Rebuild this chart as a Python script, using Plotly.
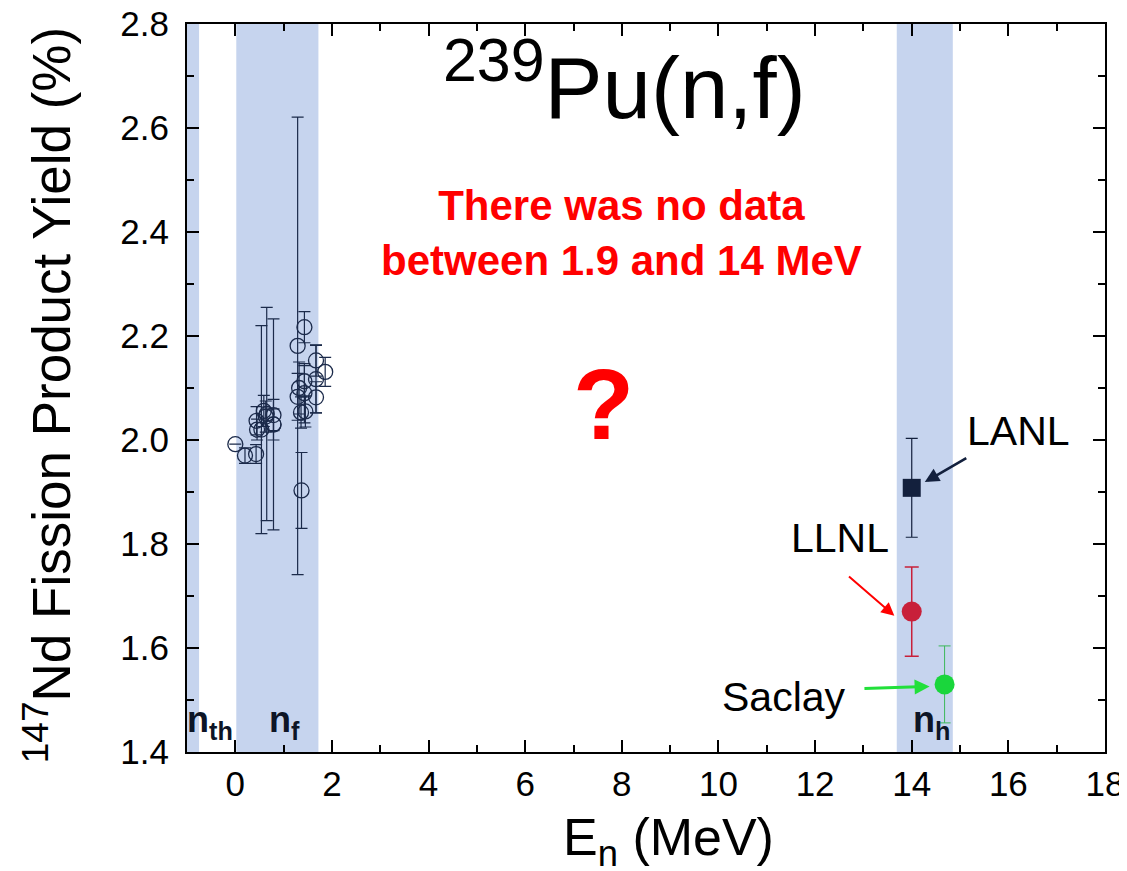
import plotly.graph_objects as go

# ---- data ----
open_x = [0.00, 0.20, 0.43, 0.44, 0.45, 0.54, 0.59, 0.63, 0.65, 0.79, 0.79, 0.79,
          1.29, 1.29, 1.32, 1.36, 1.37, 1.43, 1.43, 1.43, 1.45, 1.67, 1.67, 1.67, 1.86]
open_y = [1.992, 1.970, 1.973, 2.037, 2.020, 2.020, 2.056, 2.045, 2.050, 2.030, 2.048, 2.030,
          2.181, 2.083, 2.100, 2.053, 1.903, 2.217, 2.090, 2.113, 2.055, 2.153, 2.117, 2.082, 2.131]
open_err = [0.0, 0.015, 0.018, 0.027, 0.02, 0.20, 0.03, 0.03, 0.205, 0.203, 0.03, 0.03,
            0.44, 0.045, 0.05, 0.03, 0.073, 0.03, 0.057, 0.03, 0.03, 0.03, 0.065, 0.03, 0.028]

lanl_x, lanl_y, lanl_err = [14.0], [1.908], [0.095]
llnl_x, llnl_y, llnl_err = [14.0], [1.670], [0.086]
saclay_x, saclay_y, saclay_err = [14.68], [1.530], [0.074]

bands = [(-1.0, -0.75), (0.02, 1.72), (13.69, 14.85)]
band_labels = ["n<sub>th</sub>", "n<sub>f</sub>", "n<sub>h</sub>"]
band_label_x = [-0.52, 1.01, 14.4]

x_ticks = [0, 2, 4, 6, 8, 10, 12, 14, 16, 18]
y_ticks = [1.4, 1.6, 1.8, 2.0, 2.2, 2.4, 2.6, 2.8]

NAVY = "#1b2a4a"
RED = "#c8203a"
GREEN = "#1ad63c"
BAND = "#c6d4ee"
FONT = "Liberation Sans, Arial, sans-serif"

fig = go.Figure()

fig.add_trace(go.Scatter(
    x=open_x, y=open_y, mode="markers",
    marker=dict(symbol="circle-open", size=15, color=NAVY, line=dict(width=1.3, color=NAVY)),
    error_y=dict(type="data", array=open_err, color=NAVY, thickness=1.2, width=6),
    showlegend=False))

fig.add_trace(go.Scatter(
    x=lanl_x, y=lanl_y, mode="markers",
    marker=dict(symbol="square", size=18, color="#13203d"),
    error_y=dict(type="data", array=lanl_err, color="#13203d", thickness=1.2, width=6),
    showlegend=False))

fig.add_trace(go.Scatter(
    x=llnl_x, y=llnl_y, mode="markers",
    marker=dict(symbol="circle", size=20, color=RED),
    error_y=dict(type="data", array=llnl_err, color=RED, thickness=1.5, width=7),
    showlegend=False))

fig.add_trace(go.Scatter(
    x=saclay_x, y=saclay_y, mode="markers",
    marker=dict(symbol="circle", size=20, color=GREEN),
    error_y=dict(type="data", array=saclay_err, color="#3cb85a", thickness=1, width=6),
    showlegend=False))

shapes = []
for x0, x1 in bands:
    shapes.append(dict(type="rect", xref="x", yref="y", x0=x0, x1=x1, y0=1.4, y1=2.8,
                       fillcolor=BAND, line=dict(width=0), layer="below"))
# partial neighbouring panel at right edge
shapes.append(dict(type="rect", xref="paper", yref="paper", x0=1.0196, x1=1.05, y0=-0.012, y1=1.012,
                   fillcolor="#dfe7f5", line=dict(color="#8a8f99", width=1.5), layer="above"))

ann = []
ann.append(dict(x=8.05, y=2.69, xref="x", yref="y", showarrow=False,
                xanchor="center", yanchor="middle",
                text="<sup>239</sup>Pu(n,f)", font=dict(family=FONT, size=87, color="black")))
ann.append(dict(x=8.0, y=2.398, xref="x", yref="y", showarrow=False,
                xanchor="center", yanchor="middle",
                text="<b>There was no data<br>between 1.9 and 14 MeV</b>",
                font=dict(family=FONT, size=42, color="#ff0000")))
ann.append(dict(x=7.63, y=2.07, xref="x", yref="y", showarrow=False,
                xanchor="center", yanchor="middle",
                text="<b>?</b>", font=dict(family=FONT, size=100, color="#ff0000")))
ann.append(dict(x=16.2, y=2.017, xref="x", yref="y", showarrow=False,
                xanchor="center", yanchor="middle",
                text="LANL", font=dict(family=FONT, size=41, color="black")))
ann.append(dict(x=12.52, y=1.812, xref="x", yref="y", showarrow=False,
                xanchor="center", yanchor="middle",
                text="LLNL", font=dict(family=FONT, size=41, color="black")))
ann.append(dict(x=11.36, y=1.505, xref="x", yref="y", showarrow=False,
                xanchor="center", yanchor="middle",
                text="Saclay", font=dict(family=FONT, size=41, color="black")))
for lab, lx in zip(band_labels, band_label_x):
    ann.append(dict(x=lx, y=1.457, xref="x", yref="y", showarrow=False,
                    xanchor="center", yanchor="middle",
                    text="<b>" + lab + "</b>", font=dict(family=FONT, size=36, color="#0d1526")))

# arrows (head at x,y ; tail at ax,ay)
ann.append(dict(x=14.27, y=1.919, ax=15.16, ay=1.967, xref="x", yref="y", axref="x", ayref="y",
                text="", showarrow=True, arrowhead=2, arrowsize=1.1, arrowwidth=2.6,
                arrowcolor="#13203d", standoff=0, startstandoff=0))
ann.append(dict(x=13.64, y=1.662, ax=12.67, ay=1.740, xref="x", yref="y", axref="x", ayref="y",
                text="", showarrow=True, arrowhead=2, arrowsize=1.3, arrowwidth=2,
                arrowcolor="#ff0000", standoff=0, startstandoff=0))
ann.append(dict(x=14.37, y=1.526, ax=12.99, ay=1.522, xref="x", yref="y", axref="x", ayref="y",
                text="", showarrow=True, arrowhead=2, arrowsize=1.0, arrowwidth=3,
                arrowcolor="#22e03a", standoff=0, startstandoff=0))

# axis titles
ann.append(dict(x=-0.1525, y=0.49, xref="paper", yref="paper", showarrow=False, textangle=-90,
                xanchor="center", yanchor="middle",
                text="<sup>147</sup>Nd Fission Product Yield (%)",
                font=dict(family=FONT, size=53, color="black")))
ann.append(dict(x=0.524, y=-0.122, xref="paper", yref="paper", showarrow=False,
                xanchor="center", yanchor="middle",
                text="E<sub>n</sub> (MeV)", font=dict(family=FONT, size=52, color="black")))

axis_common = dict(showline=True, linecolor="black", linewidth=2, mirror="allticks",
                   ticks="inside", ticklen=12, tickwidth=2, tickcolor="black",
                   showgrid=False, zeroline=False, automargin=False,
                   ticklabeloverflow="allow",
                   tickfont=dict(family=FONT, size=35, color="black"))

fig.update_layout(
    width=1127, height=871,
    margin=dict(l=179, r=30, t=16, b=127),
    paper_bgcolor="white", plot_bgcolor="white",
    shapes=shapes, annotations=ann,
    xaxis=dict(range=[-1, 18], tickvals=x_ticks, ticktext=[str(v) for v in x_ticks],
               ticklabelstandoff=0,
               minor=dict(ticks="inside", ticklen=7, tickwidth=2, tickcolor="black", dtick=1, tick0=0),
               **axis_common),
    yaxis=dict(range=[1.4, 2.8], tickvals=y_ticks, ticktext=[f"{v:.1f}" for v in y_ticks],
               ticklabelstandoff=9,
               minor=dict(ticks="inside", ticklen=7, tickwidth=2, tickcolor="black", dtick=0.1, tick0=1.4),
               **axis_common),
)

fig.write_html("out.html")
